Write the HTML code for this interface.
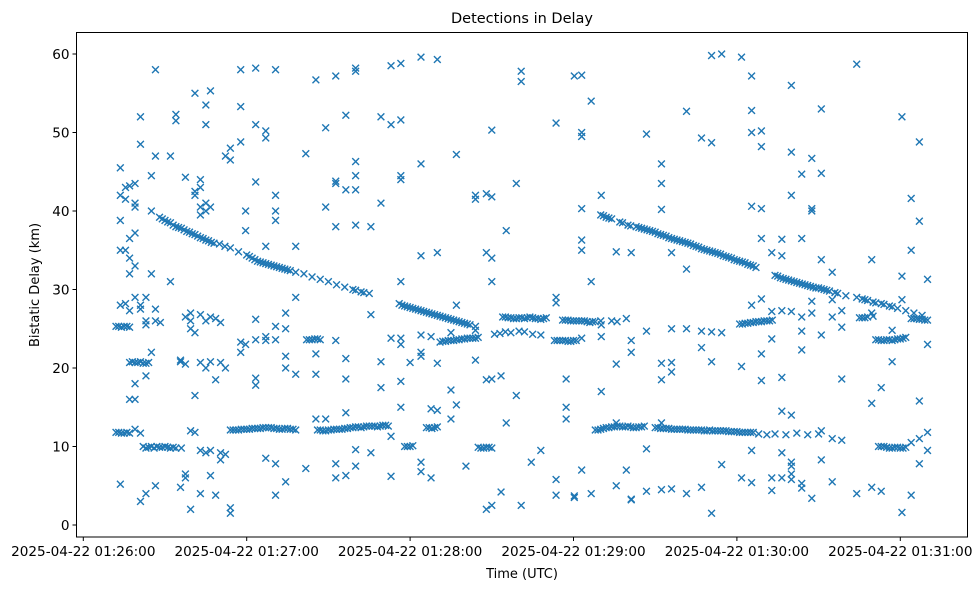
<!DOCTYPE html>
<html><head><meta charset="utf-8"><style>
body{margin:0;background:#fff;width:979px;height:590px;overflow:hidden}
svg{display:block;font-family:"DejaVu Sans","Liberation Sans",sans-serif}
</style></head><body>
<svg id="chart" width="979" height="590">
<text x="522" y="23" text-anchor="middle" font-size="14.5">Detections in Delay</text>
<text x="522" y="578" text-anchor="middle" font-size="13">Time (UTC)</text>
<text transform="translate(39,285) rotate(-90)" text-anchor="middle" font-size="13">Bistatic Delay (km)</text>
<g id="marks"></g>
<g id="axes"></g>
</svg>
<script>
const xTicks=[0,60,120,180,240,300];
const xTickLabels=["2025-04-22 01:26:00","2025-04-22 01:27:00","2025-04-22 01:28:00","2025-04-22 01:29:00","2025-04-22 01:30:00","2025-04-22 01:31:00"];
const yTicks=[0,10,20,30,40,50,60];
// track A (descending delay), [seconds after 01:26:00, km]
const trackA1=[[28,39.2],[29,39],[30,38.8],[31,38.6],[32,38.5],[33,38.2],[34,38],[35,37.9],[36,37.8],[37,37.6],[38,37.4],[39,37.3],[40,37.1],[41,37],[42,36.8],[43,36.6],[44,36.5],[45,36.3],[46,36.2],[47,36],[48,35.9],[50,35.8],[52,35.5],[54,35.3],[57,34.8],[60,34.4],[61,34.2],[62,34],[63,33.8],[64,33.6],[65,33.5],[66,33.4],[67,33.3],[68,33.2],[69,33.1],[70,33],[71,32.9],[72,32.8],[73,32.7],[74,32.6],[75,32.5],[76,32.4],[78,32.2],[81,32],[84,31.6],[87,31.3],[90,31],[93,30.6],[96,30.3],[99,30],[100,29.9],[102,29.7],[103,29.6],[105,29.5],[116,28.2],[117,28],[118,27.9],[119,27.8],[120,27.7],[121,27.6],[122,27.5],[123,27.4],[124,27.3],[125,27.2],[126,27.1],[127,27],[128,26.9],[129,26.8],[130,26.7],[131,26.6],[132,26.5],[133,26.4],[134,26.3],[135,26.2],[136,26.1],[137,26],[138,25.9],[139,25.8],[140,25.7],[141,25.6],[142,25.5],[144,25.3]];
const trackA2=[[190,39.5],[191,39.4],[192,39.2],[193,39.1],[194,39],[197,38.6],[198,38.5],[200,38.2],[201,38.1],[203,38],[204,37.9],[205,37.8],[206,37.7],[207,37.6],[208,37.5],[209,37.4],[210,37.3],[211,37.1],[212,37],[213,36.9],[214,36.8],[215,36.6],[216,36.5],[217,36.4],[218,36.3],[219,36.2],[220,36.1],[221,36],[222,35.9],[223,35.8],[224,35.6],[225,35.5],[226,35.4],[227,35.2],[228,35.1],[229,35],[230,34.9],[231,34.8],[232,34.7],[233,34.6],[234,34.5],[235,34.3],[236,34.2],[237,34.1],[238,34],[239,33.8],[240,33.7],[241,33.6],[242,33.5],[243,33.4],[244,33.2],[245,33.1],[246,33],[247,32.8]];
const trackA3=[[254,31.8],[255,31.7],[256,31.5],[257,31.4],[258,31.3],[259,31.2],[260,31.1],[261,31],[262,30.9],[263,30.8],[264,30.7],[265,30.6],[266,30.5],[267,30.4],[268,30.3],[269,30.2],[270,30.2],[271,30.1],[272,30],[273,29.9],[274,29.8],[276,29.6],[277,29.5],[280,29.2],[284,29],[286,28.8],[287,28.7],[288,28.6],[290,28.4],[291,28.3],[293,28.2],[294,28.1],[296,27.9],[297,27.8],[299,27.6],[302,27.3],[305,27],[308,26.7]];
// near-constant delay bands
const band12=[[54,12.1],[55,12.1],[56,12.1],[57,12.1],[58,12.2],[59,12.2],[60,12.2],[61,12.2],[62,12.3],[63,12.3],[64,12.3],[65,12.3],[66,12.4],[67,12.4],[68,12.4],[69,12.4],[70,12.3],[71,12.3],[72,12.2],[73,12.2],[74,12.3],[75,12.3],[76,12.2],[77,12.2],[78,12.1],[86,12.1],[87,12.1],[88,12],[89,12],[90,12.1],[91,12.1],[92,12.2],[93,12.2],[94,12.2],[95,12.2],[96,12.3],[97,12.3],[98,12.4],[99,12.4],[100,12.5],[101,12.5],[102,12.4],[103,12.5],[104,12.6],[105,12.6],[106,12.6],[107,12.6],[108,12.5],[109,12.6],[110,12.7],[111,12.7],[112,12.6],[126,12.4],[127,12.4],[128,12.3],[129,12.4],[130,12.5],[188,12.1],[189,12.1],[190,12.2],[191,12.3],[192,12.4],[193,12.4],[194,12.5],[195,12.5],[196,12.6],[197,12.6],[198,12.5],[199,12.5],[200,12.6],[201,12.5],[202,12.4],[203,12.4],[204,12.5],[205,12.5],[206,12.6],[210,12.4],[211,12.4],[212,12.3],[213,12.3],[214,12.3],[215,12.3],[216,12.2],[217,12.2],[218,12.2],[219,12.2],[220,12.2],[221,12.2],[222,12.1],[223,12.1],[224,12.1],[225,12.1],[226,12.1],[227,12.1],[228,12],[229,12],[230,12.1],[231,12],[232,12],[233,12],[234,12],[235,12],[236,12],[237,11.9],[238,11.9],[239,11.9],[240,11.9],[241,11.8],[242,11.8],[243,11.8],[244,11.8],[245,11.8],[246,11.8],[248,11.6],[251,11.5],[254,11.6],[258,11.5],[262,11.7],[266,11.5],[270,11.6]];
const band10=[[22,10],[23,9.8],[24,9.9],[25,10],[26,9.8],[27,10],[28,9.9],[29,9.9],[30,10],[31,9.9],[32,9.8],[33,9.9],[34,9.8],[36,9.8],[118,10],[119,10],[120,10],[121,10.1],[145,9.9],[146,9.8],[147,9.8],[148,9.9],[149,9.9],[150,9.8],[292,10],[293,10],[294,10],[295,9.9],[296,9.8],[297,9.8],[298,9.9],[299,9.9],[300,9.8],[301,9.8],[302,9.9]];
const band26=[[154,26.5],[155,26.5],[156,26.4],[157,26.4],[158,26.3],[159,26.3],[160,26.4],[161,26.4],[162,26.3],[163,26.4],[164,26.5],[165,26.4],[166,26.3],[167,26.3],[168,26.2],[169,26.3],[170,26.4],[176,26.1],[177,26.1],[178,26.1],[179,26],[180,26],[181,26],[182,26],[183,26],[184,26],[185,25.9],[186,25.8],[187,25.9],[188,25.9],[190,26],[194,26],[196,25.9],[241,25.6],[242,25.6],[243,25.7],[244,25.7],[245,25.8],[246,25.8],[247,25.9],[248,25.9],[249,25.9],[250,26],[251,26],[252,26],[253,26.1],[285,26.4],[286,26.4],[287,26.4],[288,26.5],[290,26.6],[304,26.3],[305,26.3],[306,26.3],[307,26.2],[308,26.2],[309,26.1],[310,26.1]];
const band23=[[82,23.6],[83,23.6],[84,23.6],[85,23.7],[86,23.7],[87,23.6],[131,23.3],[132,23.4],[133,23.4],[134,23.5],[135,23.5],[136,23.5],[137,23.6],[138,23.6],[139,23.7],[140,23.7],[141,23.8],[142,23.8],[143,23.8],[144,23.8],[145,23.9],[173,23.5],[174,23.5],[175,23.5],[176,23.5],[177,23.5],[178,23.4],[179,23.4],[180,23.5],[181,23.5],[291,23.6],[292,23.6],[293,23.5],[294,23.5],[295,23.6],[296,23.6],[297,23.5],[298,23.6],[299,23.7],[300,23.7],[301,23.8],[302,23.9]];
const band20=[[17,20.7],[18,20.8],[19,20.7],[20,20.7],[21,20.8],[22,20.6],[23,20.6],[24,20.7]];
const band25=[[12,25.3],[13,25.3],[14,25.2],[15,25.3],[16,25.3],[17,25.2]];
const band11=[[12,11.8],[13,11.8],[14,11.7],[15,11.7],[16,11.8],[17,11.7]];
const band24=[[151,24.3],[153,24.4],[155,24.6],[157,24.5],[160,24.7],[162,24.6],[165,24.3],[168,24.2]];
const scatterPts=[
[13.6,45.5],[13.6,42],[13.6,38.8],[13.6,5.2],[13.6,28],[13.6,35],[15.5,43],[15.5,41.5],[15.5,35],[15.5,28.2],
[17,43.2],[17,32],[17,27.3],[17,16],[17,34],[17,36.5],[19,40.5],[19,41],[19,37.2],[19,33],[19,29],[19,16],[19,12.2],[19,18],[19,43.5],
[21,52],[21,48.5],[21,28],[21,27.5],[21,3],[21,11.7],[23,26],[23,25.5],[23,19],[23,4],[23,29],
[25,44.5],[25,40],[25,32],[25,22],[26.5,58],[26.5,47],[26.5,26],[26.5,27.5],[26.5,5],[28.3,25.8],
[32,47],[32,31],[34,51.5],[34,52.3],[35.7,21],[35.7,20.8],[35.7,4.8],[37.5,44.3],[37.5,26.5],[37.5,6.5],[37.5,20.5],[37.5,6],
[39.4,27],[39.4,26],[39.4,25],[39.4,2],[39.4,12],[41,55],[41,42.5],[41,42],[41,24.5],[41,16.5],[41,11.8],
[43,40.5],[43,39.5],[43,44],[43,43],[43,26.8],[43,20.7],[43,9.5],[43,4],[45,53.5],[45,51],[45,41],[45,40],[45,26],[45,20],[45,9.2],
[46.7,55.3],[46.7,40.5],[46.7,26.5],[46.7,20.8],[46.7,6.3],[46.7,9.5],[48.6,26.3],[48.6,18.5],[48.6,3.8],
[50.4,25.8],[50.4,20.7],[50.4,9.2],[50.4,8.3],[52.2,47],[52.2,20],[52.2,9],[54,48],[54,46.5],[54,1.5],[54,2.2],
[57.8,58],[57.8,53.3],[57.8,48.8],[57.8,23.3],[57.8,22],[59.6,40],[59.6,37.5],[59.6,23],
[63.3,58.2],[63.3,51],[63.3,43.7],[63.3,26.2],[63.3,23.6],[63.3,18.7],[63.3,17.8],[67,50.2],[67,49.3],[67,35.5],[67,24],[67,23.5],[67,8.5],
[70.6,58],[70.6,42],[70.6,40],[70.6,38.8],[70.6,25.3],[70.6,23.6],[70.6,7.8],[70.6,3.8],[74.3,25],[74.3,27],[74.3,21.5],[74.3,20],[74.3,5.5],
[78,35.5],[78,29],[78,19.2],[81.7,47.3],[81.7,7.2],[85.4,56.7],[85.4,21.8],[85.4,19.2],[85.4,13.5],
[89,40.5],[89,50.6],[89,13.5],[92.7,43.8],[92.7,43.5],[92.7,57.2],[92.7,38],[92.7,23.5],[92.7,7.8],[92.7,6],
[96.4,52.2],[96.4,42.7],[96.4,21.2],[96.4,18.6],[96.4,14.3],[96.4,6.3],
[100,57.8],[100,58.2],[100,46.3],[100,44.5],[100,42.7],[100,38.2],[100,7.5],[100,9.6],
[105.6,38],[105.6,26.8],[105.6,9.2],[109.3,52],[109.3,41],[109.3,17.5],[109.3,20.8],
[113,58.5],[113,51],[113,23.8],[113,11.3],[113,6.2],[116.6,58.8],[116.6,51.6],[116.6,44.5],[116.6,44],[116.6,31],[116.6,23.8],[116.6,23],[116.6,15],[116.6,18.3],
[120,20.7],[124,59.6],[124,46],[124,34.3],[124,24.2],[124,8],[124,6.8],[124,21.5],[124,22],
[127.7,24],[127.7,14.8],[127.7,6],[130,59.3],[130,34.7],[130,20.6],[130,14.6],[135,17.2],[135,13.5],[135,24.5],
[137,47.2],[137,28],[137,15.3],[140.5,7.5],[144,41.5],[144,42],[144,24.8],[144,21],[148,42.2],[148,34.7],[148,18.5],[148,2],
[150,50.3],[150,31],[150,41.8],[150,34],[150,2.5],[150,18.6],[153.4,4.2],[153.4,19],[155.3,37.5],[155.3,13],[159,43.5],[159,16.5],
[160.8,57.8],[160.8,56.5],[160.8,2.5],[164.5,8],[168,9.5],[173.6,51.2],[173.6,29],[173.6,28.3],[173.6,5.8],[173.6,3.8],
[177.3,18.6],[177.3,13.5],[177.3,15],[180.3,57.2],[180.3,3.7],[180.3,3.5],[183,40.3],[183,36.3],[183,35],[183,50],[183,49.5],[183,57.3],[183,23.8],[183,7],
[186.5,31],[186.5,54],[186.5,4],[190.2,42],[190.2,25.5],[190.2,24],[190.2,17],[195.7,34.8],[195.7,20.5],[195.7,13],[195.7,5],
[199.4,26.3],[199.4,7],[201.2,23.5],[201.2,34.7],[201.2,3.3],[201.2,3.2],[201.2,22],[206.8,49.8],[206.8,24.7],[206.8,4.3],[206.8,9.7],
[212.3,43.5],[212.3,46],[212.3,40.2],[212.3,20.6],[212.3,18.5],[212.3,4.5],[212.3,13],[216,34.7],[216,25],[216,20.7],[216,19.5],[216,4.6],
[221.5,52.7],[221.5,32.6],[221.5,25],[221.5,4],[227,49.3],[227,4.8],[227,22.6],[227,24.7],[230.7,59.8],[230.7,48.7],[230.7,20.8],[230.7,24.6],[230.7,1.5],
[234.4,60],[234.4,7.7],[234.4,24.5],[241.7,59.6],[241.7,20.2],[241.7,6],[245.4,57.2],[245.4,52.8],[245.4,50],[245.4,40.6],[245.4,28],[245.4,5.4],[245.4,9.5],
[249,50.2],[249,48.2],[249,40.3],[249,36.5],[249,28.8],[249,21.8],[249,18.4],[252.8,34.7],[252.8,27.2],[252.8,23.7],[252.8,4.4],[252.8,6],
[256.5,36.4],[256.5,34.3],[256.5,27.3],[256.5,18.8],[256.5,14.5],[256.5,6],[256.5,9.2],[260,56],[260,47.5],[260,42],[260,27.2],[260,14],[260,6.5],[260,5.8],[260,7.5],[260,8],
[263.8,44.7],[263.8,36.5],[263.8,26.5],[263.8,24.7],[263.8,22.3],[263.8,5.3],[263.8,4.7],[267.5,46.7],[267.5,40.3],[267.5,40],[267.5,28.5],[267.5,27],[267.5,3.4],
[271,53],[271,44.8],[271,33.8],[271,24.2],[271,8.3],[271,12],[275,32.2],[275,28.7],[275,26.5],[275,11],[275,5.5],[278.5,27.3],[278.5,25.2],[278.5,18.6],[278.5,10.8],
[284,58.7],[284,4],[289.5,27],[289.5,15.5],[289.5,33.8],[289.5,4.8],[293,17.5],[293,4.3],[297,24.8],[297,20.8],
[300.6,52],[300.6,31.7],[300.6,28.7],[300.6,1.6],[304,41.6],[304,35],[304,10.5],[304,3.8],[307,48.8],[307,38.7],[307,15.8],[307,7.8],[307,11],[310,31.3],[310,23],[310,9.5],[310,11.8]];
const groups=[["track-a-segment-1",trackA1],["track-a-segment-2",trackA2],["track-a-segment-3",trackA3],["band-12km",band12],["band-10km",band10],["band-26km",band26],["band-23km",band23],["band-20km",band20],["band-25km",band25],["band-11km",band11],["band-24km",band24],["scattered-detections",scatterPts]];

const L=76.5,R=967.5,T=32.5,B=537;
const x=t=>83.3+t*(246.7-83.3)/60;
const y=d=>525-d*(525-54)/60;
const NS="http://www.w3.org/2000/svg";
const marks=document.getElementById('marks');
const axes=document.getElementById('axes');
const C="#1f77b4";
for(const [name,pts] of groups){
  const g=document.createElementNS(NS,'g');
  
  
  for(const [t,d] of pts){
    const cx=x(t),cy=y(d),s=3.4;
    const p=document.createElementNS(NS,'path');
    p.setAttribute('d',`M${cx-s},${cy-s}L${cx+s},${cy+s}M${cx-s},${cy+s}L${cx+s},${cy-s}`);
    p.setAttribute('stroke',C);p.setAttribute('stroke-width','1.4');
    
    
    g.appendChild(p);
  }
  marks.appendChild(g);
}
const frame=document.createElementNS(NS,'rect');
frame.setAttribute('x',L);frame.setAttribute('y',T);frame.setAttribute('width',R-L);frame.setAttribute('height',B-T);
frame.setAttribute('fill','none');frame.setAttribute('stroke','#000');frame.setAttribute('stroke-width','1');


axes.appendChild(frame);
xTicks.forEach((t,i)=>{
  const l=document.createElementNS(NS,'line');
  l.setAttribute('x1',x(t));l.setAttribute('x2',x(t));l.setAttribute('y1',B);l.setAttribute('y2',B+4);l.setAttribute('stroke','#000');
  
  
  axes.appendChild(l);
  const tx=document.createElementNS(NS,'text');
  tx.setAttribute('x',x(t));tx.setAttribute('y',B+19);tx.setAttribute('text-anchor','middle');tx.setAttribute('font-size','13.6');
  tx.textContent=xTickLabels[i];
  
  
  axes.appendChild(tx);
});
yTicks.forEach(v=>{
  const l=document.createElementNS(NS,'line');
  l.setAttribute('x1',L-4);l.setAttribute('x2',L);l.setAttribute('y1',y(v));l.setAttribute('y2',y(v));l.setAttribute('stroke','#000');
  
  
  axes.appendChild(l);
  const tx=document.createElementNS(NS,'text');
  tx.setAttribute('x',L-7);tx.setAttribute('y',y(v)+5);tx.setAttribute('text-anchor','end');tx.setAttribute('font-size','13.6');
  tx.textContent=v;
  
  
  axes.appendChild(tx);
});
</script>
</body></html>
